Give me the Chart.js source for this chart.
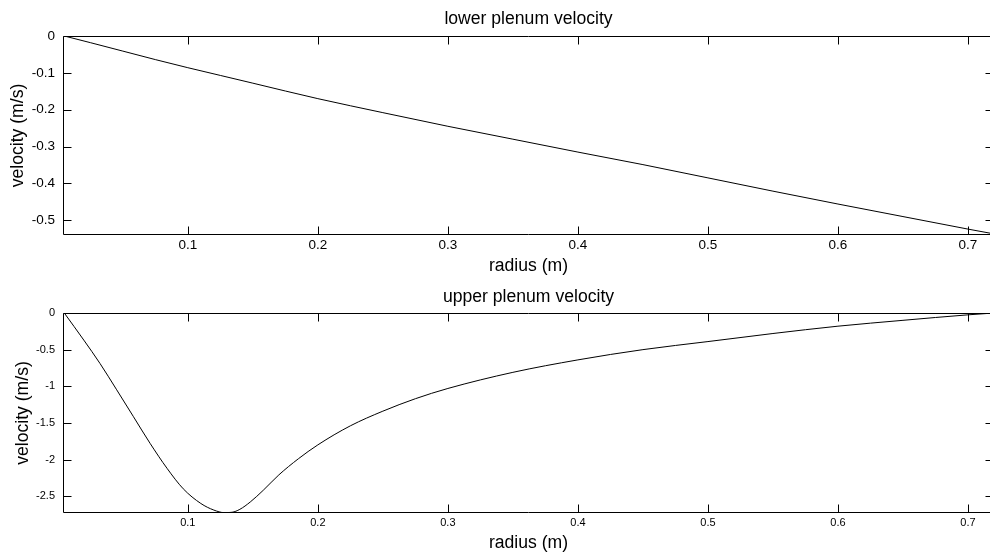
<!DOCTYPE html>
<html><head><meta charset="utf-8">
<script src="https://cdn.jsdelivr.net/npm/chart.js@4/dist/chart.umd.min.js"></script>
<style>
html,body{margin:0;padding:0;background:#fff;overflow:hidden;width:990px;height:556px}
canvas{position:absolute;left:0}
#c1{top:0}
#c2{top:280px}
</style></head><body>
<canvas id="c1" width="994" height="280"></canvas>
<canvas id="c2" width="994" height="276"></canvas>
<script>
// ---- data ----
const lowerRadius = [0.005,0.025,0.05,0.075,0.1,0.125,0.15,0.2,0.25,0.3,0.35,0.4,0.45,0.5,0.55,0.6,0.65,0.7,0.72];
const lowerVelocity = [0,-0.018,-0.041,-0.064,-0.086,-0.107,-0.128,-0.170,-0.208,-0.245,-0.280,-0.315,-0.349,-0.385,-0.421,-0.456,-0.490,-0.524,-0.537];

const upperRadius = [0.005,0.02,0.0325,0.045,0.058,0.071,0.084,0.0965,0.11,0.12,0.128,0.134,0.14,0.148,0.158,0.17,0.185,0.2,0.225,0.25,0.275,0.3,0.35,0.4,0.45,0.5,0.55,0.6,0.65,0.7,0.72];
const upperVelocity = [0,-0.37,-0.69,-1.04,-1.41,-1.78,-2.12,-2.40,-2.60,-2.69,-2.725,-2.72,-2.68,-2.58,-2.42,-2.21,-1.99,-1.80,-1.54,-1.34,-1.17,-1.03,-0.81,-0.64,-0.50,-0.39,-0.28,-0.18,-0.10,-0.025,0];

const xTicks = [0.1,0.2,0.3,0.4,0.5,0.6,0.7];
const xTickLabels = ['0.1','0.2','0.3','0.4','0.5','0.6','0.7'];
const yTicksLower = [0,-0.1,-0.2,-0.3,-0.4,-0.5];
const yTickLabelsLower = ['0','-0.1','-0.2','-0.3','-0.4','-0.5'];
const yTicksUpper = [0,-0.5,-1,-1.5,-2,-2.5];
const yTickLabelsUpper = ['0','-0.5','-1','-1.5','-2','-2.5'];

const FONT = "'Liberation Sans', Arial, sans-serif";

const framePlugin = {
  id: 'frame',
  afterDraw(chart) {
    const {ctx, chartArea: {left, right, top, bottom}, scales: {x, y}} = chart;
    const L = 8;
    ctx.save();
    ctx.strokeStyle = '#000';
    ctx.lineWidth = 1;
    const l = Math.round(left) + 0.5, r = Math.round(right) - 0.5;
    const t = Math.round(top) + 0.5, b = Math.round(bottom) - 0.5;
    ctx.beginPath();
    ctx.moveTo(l, t); ctx.lineTo(r, t); ctx.lineTo(r, b); ctx.lineTo(l, b); ctx.closePath();
    x.ticks.forEach(tk => {
      const px = Math.round(x.getPixelForValue(tk.value)) + 0.5;
      ctx.moveTo(px, b); ctx.lineTo(px, b - L);
      ctx.moveTo(px, t); ctx.lineTo(px, t + L);
    });
    y.ticks.forEach(tk => {
      const py = Math.round(y.getPixelForValue(tk.value)) + 0.5;
      ctx.moveTo(l, py); ctx.lineTo(l + L, py);
      ctx.moveTo(r, py); ctx.lineTo(r - L, py);
    });
    ctx.stroke();
    ctx.restore();
  }
};

function makeChart(id, cfg) {
  return new Chart(document.getElementById(id), {
    type: 'line',
    data: {
      datasets: [{
        data: cfg.radius.map((r, i) => ({x: r, y: cfg.vel[i]})),
        borderColor: '#000',
        borderWidth: 1,
        pointRadius: 0,
        cubicInterpolationMode: 'monotone',
        fill: false
      }]
    },
    options: {
      responsive: false,
      animation: false,
      devicePixelRatio: 1,
      layout: {padding: 0},
      plugins: {
        legend: {display: false},
        tooltip: {enabled: false},
        title: {
          display: true,
          text: cfg.title,
          fullSize: false,
          color: '#000',
          font: {family: FONT, size: 17.6, weight: 'normal'},
          padding: cfg.titlePad
        }
      },
      scales: {
        x: {
          type: 'linear',
          min: 0.004, max: 0.72,
          grid: {display: false, drawTicks: false},
          border: {display: false},
          afterBuildTicks: s => { s.ticks = xTicks.map(v => ({value: v})); },
          afterFit: s => { s.height = cfg.xH; },
          ticks: {
            autoSkip: false, maxRotation: 0, includeBounds: false,
            color: '#000', padding: cfg.xTickPad,
            font: {family: FONT, size: cfg.tickSize},
            callback: v => xTickLabels[xTicks.indexOf(v)]
          },
          title: {
            display: true, text: 'radius (m)', color: '#000',
            font: {family: FONT, size: 17.6},
            padding: {top: 0, bottom: cfg.xTitlePad}
          }
        },
        y: {
          type: 'linear',
          min: cfg.ymin, max: 0,
          grid: {display: false, drawTicks: false},
          border: {display: false},
          afterBuildTicks: s => { s.ticks = cfg.yTicks.map(v => ({value: v})); },
          afterFit: s => { s.width = 63; },
          ticks: {
            autoSkip: false, includeBounds: false,
            color: '#000', padding: 8,
            font: {family: FONT, size: cfg.tickSize},
            callback: v => cfg.yLabels[cfg.yTicks.indexOf(v)]
          },
          title: {
            display: true, text: 'velocity (m/s)', color: '#000',
            font: {family: FONT, size: 17.6},
            padding: {top: cfg.yTitlePad, bottom: 0}
          }
        }
      }
    },
    plugins: [framePlugin]
  });
}

makeChart('c1', {
  radius: lowerRadius, vel: lowerVelocity, title: 'lower plenum velocity',
  titlePad: {top: 8.44, bottom: 6.44}, xH: 45, xTickPad: 2.4, xTitlePad: 3.4,
  tickSize: 13.5, ymin: -0.54, yTicks: yTicksLower, yLabels: yTickLabelsLower, yTitlePad: 7.4
});
makeChart('c2', {
  radius: upperRadius, vel: upperVelocity, title: 'upper plenum velocity',
  titlePad: {top: 6.24, bottom: 5.64}, xH: 43, xTickPad: 3.4, xTitlePad: 2.4,
  tickSize: 11, ymin: -2.73, yTicks: yTicksUpper, yLabels: yTickLabelsUpper, yTitlePad: 12.5
});
</script></body></html>
